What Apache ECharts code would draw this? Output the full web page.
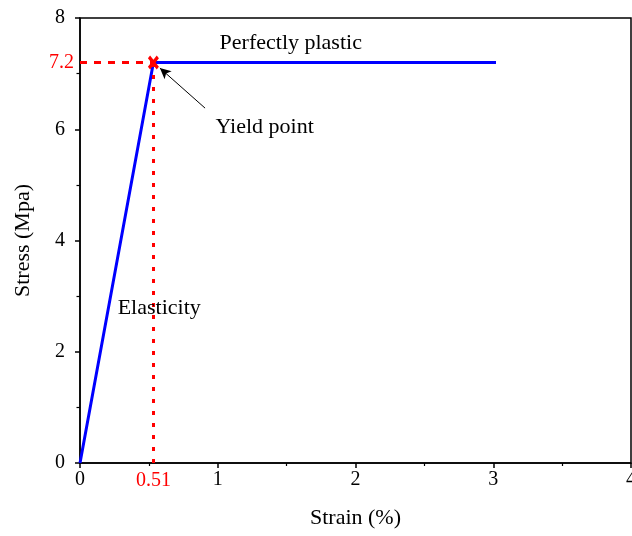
<!DOCTYPE html>
<html>
<head>
    <meta charset="utf-8">
    <title>Stress-strain</title>
    <script src="https://cdn.jsdelivr.net/npm/echarts@6/dist/echarts.min.js"></script>
</head>
<body style="margin:0">
<div id="main" style="width:632px;height:536px;"></div>
<script type="text/javascript">
    // 数据
    var strain = [0, 0.533, 3.02];
    var stress = [0, 7.2, 7.2];
    var yieldLabelX = '0.51';
    var yieldLabelY = '7.2';
    var notes = [
        {text: 'Perfectly plastic', x: 1.53, y: 7.55},
        {text: 'Yield point', x: 1.34, y: 6.04},
        {text: 'Elasticity', x: 0.575, y: 2.78}
    ];
    var arrowFrom = [0.908, 6.38];
    var arrowTo = [0.58, 7.1];

    var font = 'Liberation Serif';
    var xSymbol = 'path://M0,2 L2,0 L5,3 L8,0 L10,2 L7,5 L10,8 L8,10 L5,7 L2,10 L0,8 L3,5 Z';

    var lineData = strain.map(function (x, i) {
        var item = {value: [x, stress[i]], symbol: 'none'};
        if (i === 1) {
            item.symbol = xSymbol;
            item.symbolSize = [11, 14];
            item.itemStyle = {color: '#ff0000'};
        }
        return item;
    });

    var myChart = echarts.init(document.getElementById('main'));
    var option = {
        animation: false,
        grid: {
            left: 80, right: 1, top: 18, bottom: 73,
            outerBoundsMode: 'none',
            show: true, borderColor: '#000', borderWidth: 1.5
        },
        xAxis: {
            type: 'value', min: 0, max: 4, interval: 1,
            name: 'Strain (%)', nameLocation: 'middle', nameGap: 44,
            nameTextStyle: {fontFamily: font, fontSize: 22, color: '#000'},
            axisLine: {lineStyle: {color: '#000', width: 1.5}},
            axisTick: {length: 5, lineStyle: {color: '#000', width: 1.5}},
            minorTick: {show: true, splitNumber: 2, length: 3, lineStyle: {color: '#000', width: 1.2}},
            axisLabel: {fontFamily: font, fontSize: 20, color: '#000', margin: 7, showMaxLabel: true},
            splitLine: {show: false}
        },
        yAxis: {
            type: 'value', min: 0, max: 8, interval: 2,
            name: 'Stress (Mpa)', nameLocation: 'middle', nameGap: 46,
            nameTextStyle: {fontFamily: font, fontSize: 22, color: '#000'},
            axisLine: {show: true, lineStyle: {color: '#000', width: 1.5}},
            axisTick: {show: true, length: 5, lineStyle: {color: '#000', width: 1.5}},
            minorTick: {show: true, splitNumber: 2, length: 3.5, lineStyle: {color: '#000', width: 1.2}},
            axisLabel: {fontFamily: font, fontSize: 20, color: '#000', margin: 15},
            splitLine: {show: false}
        },
        series: [
            {
                type: 'line',
                data: lineData,
                lineStyle: {color: '#0000ff', width: 3},
                itemStyle: {color: '#0000ff'},
                z: 3,
                markLine: {
                    silent: true,
                    symbol: 'none',
                    lineStyle: {color: '#ff0000', width: 3, type: [7, 7], opacity: 1},
                    label: {fontFamily: font, fontSize: 20, color: '#ff0000', position: 'start'},
                    data: [
                        [
                            {coord: [0, stress[1]], label: {formatter: yieldLabelY, distance: 6}},
                            {coord: [strain[1], stress[1]]}
                        ],
                        [
                            {coord: [strain[1], 0], label: {formatter: yieldLabelX, distance: 8},
                                lineStyle: {type: [4, 8]}},
                            {coord: [strain[1], stress[1]]}
                        ]
                    ]
                }
            },
            {
                type: 'line',
                data: [],
                markPoint: {
                    silent: true,
                    symbol: 'circle', symbolSize: 0,
                    label: {show: true, position: 'inside', fontFamily: font, fontSize: 22, color: '#000'},
                    data: notes.map(function (n) {
                        return {coord: [n.x, n.y], label: {formatter: n.text}};
                    })
                },
                markLine: {
                    silent: true,
                    symbol: ['none', 'arrow'],
                    symbolSize: [8, 11],
                    lineStyle: {color: '#000', width: 1, type: 'solid'},
                    label: {show: false},
                    data: [[{coord: arrowFrom}, {coord: arrowTo}]]
                }
            }
        ]
    };
    myChart.setOption(option);
</script>
</body>
</html>
